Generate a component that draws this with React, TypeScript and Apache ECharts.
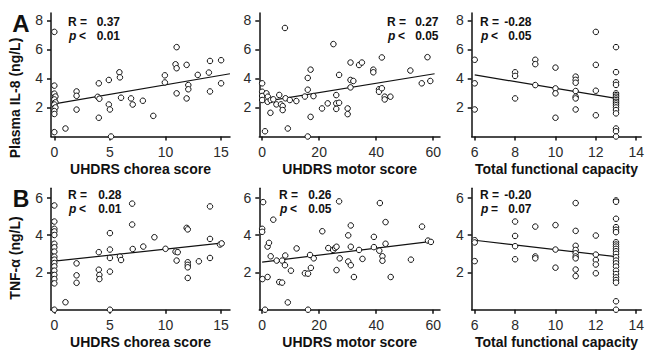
import React, { useEffect, useRef } from "react";
import * as echarts from "echarts";

// ---- Data ----
const choreaIL8: number[][] = [
  [0, 7.2], [0, 3.5], [0, 2.95], [0.1, 2.75], [0, 2.55], [0.1, 2.35], [0, 2.2], [0.1, 2.0], [0, 1.75], [0, 1.55], [0, 0.3],
  [1, 0.55], [2, 3.1], [2, 2.8], [2, 1.85],
  [4, 3.66], [3.9, 2.73], [4.05, 2.6], [4, 1.29],
  [4.9, 3.89], [4.9, 2.2], [5, 1.86], [5.1, 0.0],
  [5.85, 4.42], [5.9, 4.07], [6, 2.67], [6.9, 2.62], [7.05, 2.2], [7.96, 2.46], [8.9, 1.42],
  [9.94, 4.21], [9.94, 3.72], [10.9, 4.97], [11, 4.7], [11, 6.15], [11, 2.97],
  [11.9, 4.93], [11.9, 2.62], [12.05, 3.54], [12.05, 3.25], [12.9, 4.24],
  [13.9, 4.4], [14, 5.2], [14, 3.1], [15, 5.25], [15, 3.66],
];
const motorIL8: number[][] = [
  [0, 3.66], [0, 3.08], [0, 2.79], [0, 2.51], [1, 0.36], [1.5, 2.97], [2, 2.74], [1.9, 2.39], [3, 2.51],
  [3.9, 2.56], [2.9, 1.63], [5, 2.21], [6, 2.86], [6.6, 2.21], [7.2, 2.09], [7.2, 1.82], [8.2, 2.63],
  [8, 7.47], [9, 0.55], [9.7, 2.51], [12, 2.44], [15, 2.75], [16, 3.22], [16, 4.03], [16, 0.0],
  [17, 4.6], [17, 1.35], [18, 2.78], [21, 1.93], [23, 2.28], [25, 6.36], [26, 2.85], [26, 2.28],
  [26, 1.9], [27, 2.32], [27, 4.24], [30, 1.93], [30, 1.54], [31, 5.09], [31, 3.89], [31, 3.38],
  [32, 3.82], [34, 4.92], [35, 5.09], [39, 4.6], [39, 4.42], [41, 3.25], [41, 3.08], [42, 5.44],
  [42, 3.32], [43, 2.74], [43, 2.55], [45, 2.74], [52, 4.54], [56, 3.66], [58, 5.46], [59, 3.82],
];
const tfcIL8: number[][] = [
  [6, 5.28], [6, 3.66], [6, 1.86], [8, 4.42], [8, 4.17], [8, 2.62], [9, 5.28], [9, 4.98], [9, 3.54],
  [10, 4.74], [10, 3.31], [10, 2.97], [10, 1.29],
  [11, 4.12], [11, 3.9], [11, 3.7], [11, 3.13], [11, 2.74], [11, 2.62], [11, 1.86],
  [12, 7.2], [12, 4.93], [12, 3.15], [12, 1.46],
  [13, 6.15], [13, 4.43], [13, 3.73], [13, 3.55], [13, 2.97], [13, 2.85], [13, 2.74], [13, 2.62],
  [13, 2.51], [13, 2.39], [13, 2.28], [13, 2.15], [13, 2.0], [13, 1.82], [13, 1.59], [13, 0.55],
  [13, 0.36], [13, 0],
];
const choreaTNF: number[][] = [
  [0, 5.58], [0, 4.72], [0, 4.33], [0, 4.19], [0, 4.0], [0, 3.53], [0, 3.34], [0, 3.11], [0, 2.84],
  [0, 2.68], [0, 2.5], [0, 2.32], [0, 2.09], [0, 1.86], [0, 1.64], [0, 1.41], [0, 0],
  [1, 0.4], [2, 2.48], [2, 1.84], [2, 1.44],
  [4, 3.08], [4, 2.14], [4.05, 1.86], [4.05, 1.64],
  [5, 4.1], [5, 3.22], [5, 2.77], [5, 2.04], [5, 0],
  [5.9, 2.84], [6, 2.66], [7, 5.68], [7, 4.56], [7.05, 3.25], [8, 3.38], [9, 3.88], [10, 3.26],
  [10.9, 3.11], [11.1, 3.08], [11, 2.63],
  [11.9, 4.38], [12, 4.3], [12, 2.54], [12, 2.4], [12, 2.27], [12, 1.7], [13, 2.59],
  [14, 5.53], [14, 3.79], [14, 2.77], [14.9, 3.49], [15.05, 3.55],
];
const motorTNF: number[][] = [
  [0, 4.33], [0, 4.17], [0.35, 5.76], [3.9, 4.82], [0.1, 1.64], [1.9, 1.75], [1.9, 3.38], [2.4, 3.58],
  [3, 2.86], [5.1, 2.63], [6, 1.48], [7, 1.45], [7, 2.63], [8.1, 2.9], [8, 2.38], [10.1, 2.09],
  [9, 0.39], [12.1, 3.28], [1, 0], [16.1, 0], [15, 1.95], [16.1, 1.93], [17.1, 2.24], [16.8, 2.93],
  [18.1, 2.75], [21.1, 4.2], [23.2, 3.3], [24.9, 3.2], [25.6, 3.3], [26.1, 3.37], [26.1, 2.12],
  [27, 5.8], [27.2, 2.75], [30.2, 3.98], [31.1, 4.51], [31.1, 3.37], [30.2, 2.58], [31.1, 2.38],
  [32.2, 1.75], [34, 3.2], [35.2, 2.72], [39.2, 3.9], [39.2, 3.35], [41.1, 3.16], [41.3, 5.71],
  [42.2, 2.86], [42.2, 2.62], [43.3, 4.69], [43.3, 3.53], [45.1, 1.75], [52.2, 2.68], [56.1, 4.45],
  [58.2, 3.7], [59.2, 3.63],
];
const tfcTNF: number[][] = [
  [6, 3.72], [6, 3.6], [6, 2.6], [8, 4.72], [8, 3.95], [8, 3.4], [8, 2.7],
  [9, 4.45], [9, 2.85], [9, 2.75], [10, 4.53], [10, 3.22], [10, 2.25],
  [11, 5.71], [11, 4.22], [11, 3.42], [11, 3.2], [11, 3.02], [11, 2.85], [11, 2.75], [11, 2.15], [11, 1.8],
  [12, 3.97], [12, 2.95], [12, 2.66], [12, 2.42], [12, 1.95],
  [13, 5.85], [13, 5.78], [13, 4.87], [13, 4.42], [13, 4.28], [13, 4.15], [13, 3.61], [13, 3.49],
  [13, 3.38], [13, 3.26], [13, 3.13], [13, 2.99], [13, 2.81], [13, 2.63], [13, 2.48], [13, 2.31],
  [13, 2.09], [13, 1.91], [13, 1.73], [13, 1.59], [13, 1.45], [13, 0.45], [13, 0],
];

const fitLines: number[][][] = [
  [[0, 2.25], [15.8, 4.32]],
  [[0, 2.38], [60.5, 4.32]],
  [[6, 4.24], [13, 2.62]],
  [[0, 2.6], [15, 3.56]],
  [[0, 2.55], [59.5, 3.66]],
  [[6, 3.72], [13, 2.84]],
];

const xTitles = ["UHDRS chorea score", "UHDRS motor score", "Total functional capacity"];
const xTicks = [[0, 5, 10, 15], [0, 20, 40, 60], [6, 8, 10, 12, 14]];
const xRanges = [[-0.3, 15.8], [-1.0, 62.4], [5.85, 14.25]];
const yTicksA = [2, 4, 6, 8];
const yTicksB = [2, 4, 6];
const yTitles = ["Plasma IL-8 (ng/L)", "TNF-\u03b1 (ng/L)"];
const stats = [
  ["R =", "0.37", "p", "<", "0.01"],
  ["R =", "0.27", "p", "<", "0.05"],
  ["R =", "-0.28", "p", "<", "0.05"],
  ["R =", "0.28", "p", "<", "0.01"],
  ["R =", "0.26", "p", "<", "0.05"],
  ["R =", "-0.20", "p", "=", "0.07"],
];

const FONT = '"Liberation Sans", Arial, Helvetica, sans-serif';

export default function App() {
  const ref = useRef<HTMLDivElement>(null);
  useEffect(() => {
    if (!ref.current) return;
    const chart = echarts.init(ref.current, undefined, { renderer: "svg" });
    const cols = [
      { left: 51, width: 179 },
      { left: 259.3, width: 180.7 },
      { left: 471.7, width: 175.3 },
    ];
    const rows = [
      { top: 13, height: 123.5, max: 8.5, ticks: yTicksA },
      { top: 188.3, height: 121.4, max: 6.5, ticks: yTicksB },
    ];
    const grids: any[] = [];
    const xAxes: any[] = [];
    const yAxes: any[] = [];
    const series: any[] = [];
    const datasets = [choreaIL8, motorIL8, tfcIL8, choreaTNF, motorTNF, tfcTNF];
    const axisLine = { onZero: false, lineStyle: { color: "#111", width: 1.5 } };
    for (let r = 0; r < 2; r++) {
      for (let c = 0; c < 3; c++) {
        const i = r * 3 + c;
        grids.push({ left: cols[c].left, width: cols[c].width, top: rows[r].top, height: rows[r].height, containLabel: false });
        xAxes.push({
          type: "value", gridIndex: i, min: xRanges[c][0], max: xRanges[c][1],
          axisLine,
          axisTick: { customValues: xTicks[c], length: 4, lineStyle: { color: "#111", width: 1.5 } },
          axisLabel: { customValues: xTicks[c], fontSize: 14, color: "#2a2a2a", margin: 8, fontFamily: FONT },
          splitLine: { show: false },
          name: xTitles[c], nameLocation: "middle", nameGap: 25,
          nameTextStyle: { fontSize: 14, fontWeight: "bold", color: "#111", fontFamily: FONT },
        });
        yAxes.push({
          type: "value", gridIndex: i, min: 0, max: rows[r].max,
          axisLine,
          axisTick: { customValues: rows[r].ticks, length: 4, lineStyle: { color: "#111", width: 1.5 } },
          axisLabel: { customValues: rows[r].ticks, fontSize: 14, color: "#2a2a2a", margin: 8, fontFamily: FONT },
          splitLine: { show: false },
        });
        series.push({
          type: "line", xAxisIndex: i, yAxisIndex: i, data: fitLines[i], showSymbol: false, symbol: "none",
          lineStyle: { color: "#111", width: 1.2 }, z: 1, silent: true,
        });
        series.push({
          type: "scatter", xAxisIndex: i, yAxisIndex: i, data: datasets[i], symbol: "circle", symbolSize: 5.5,
          itemStyle: { color: "#fff", borderColor: "#111", borderWidth: 1, opacity: 1 }, z: 2,
        });
      }
    }
    // annotation positions: [labelLeft, valueRight, rowY1]
    const annPos = [
      [68, 120, 21.5], [387, 438.5, 21.5], [480, 531.5, 21.5],
      [68, 121.5, 195], [279, 331.5, 195], [480, 531.5, 195],
    ];
    const graphic: any[] = [];
    const bold = (size: number) => `bold ${size}px ${FONT}`;
    annPos.forEach((p, i) => {
      const s = stats[i];
      graphic.push({ type: "text", x: p[0], y: p[2], style: { text: s[0], font: bold(12), fill: "#111", align: "left", verticalAlign: "middle" } });
      graphic.push({ type: "text", x: p[1], y: p[2], style: { text: s[1], font: bold(12), fill: "#111", align: "right", verticalAlign: "middle" } });
      graphic.push({ type: "text", x: p[0] + 1, y: p[2] + 14, style: { text: s[2], font: `italic bold 12px ${FONT}`, fill: "#111", align: "left", verticalAlign: "middle" } });
      graphic.push({ type: "text", x: p[0] + 11, y: p[2] + 14, style: { text: s[3], font: bold(12), fill: "#111", align: "left", verticalAlign: "middle" } });
      graphic.push({ type: "text", x: p[1], y: p[2] + 14, style: { text: s[4], font: bold(12), fill: "#111", align: "right", verticalAlign: "middle" } });
    });
    graphic.push({ type: "text", x: 21, y: 23, style: { text: "A", font: bold(24), fill: "#111", align: "center", verticalAlign: "middle" } });
    graphic.push({ type: "text", x: 21, y: 199, style: { text: "B", font: bold(23), fill: "#111", align: "center", verticalAlign: "middle" } });
    graphic.push({ type: "text", x: 15, y: 98, rotation: Math.PI / 2, style: { text: yTitles[0], font: bold(14), fill: "#111", align: "center", verticalAlign: "middle" } });
    graphic.push({ type: "text", x: 15, y: 258, rotation: Math.PI / 2, style: { text: yTitles[1], font: bold(14), fill: "#111", align: "center", verticalAlign: "middle" } });

    chart.setOption({
      animation: false,
      backgroundColor: "#fff",
      textStyle: { fontFamily: FONT },
      grid: grids,
      xAxis: xAxes,
      yAxis: yAxes,
      series,
      graphic,
    });
    return () => chart.dispose();
  }, []);
  return <div ref={ref} style={{ position: "fixed", left: 0, top: 0, width: 647, height: 352 }} />;
}
